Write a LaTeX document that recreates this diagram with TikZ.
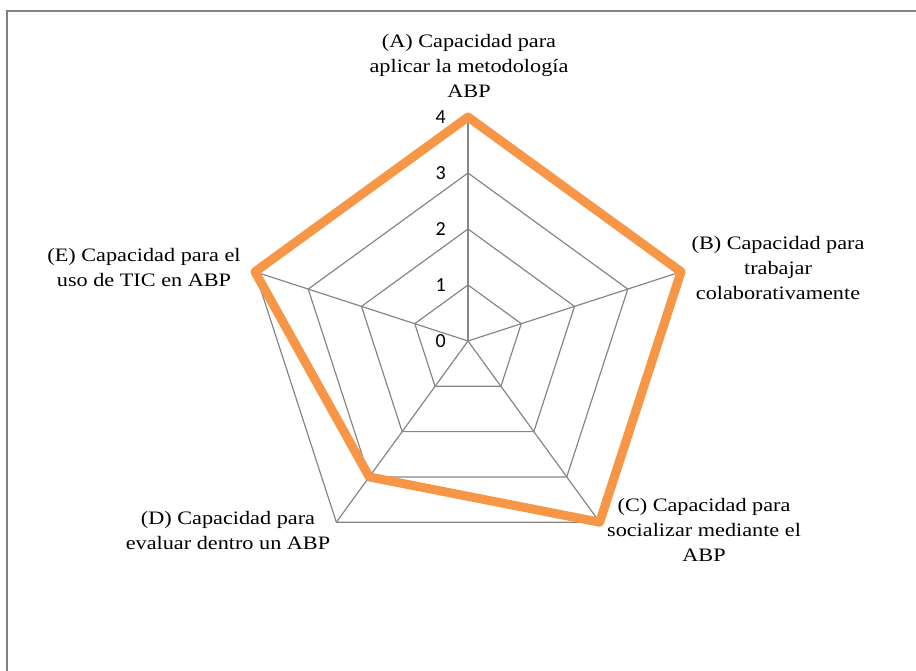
\documentclass[tikz,border=0pt]{standalone}
\usepackage{fontspec}
\setmainfont[FakeStretch=1.17]{Liberation Serif}
\newfontfamily\ticksfont{Carlito}
\definecolor{serie}{RGB}{247,150,70}
\definecolor{rejilla}{RGB}{134,134,134}
\begin{document}
\begin{tikzpicture}[x=1pt,y=1pt]
 \useasboundingbox (0,0) rectangle (916,-671);
 \draw[line width=1.5pt,color=gray] (7,-671) -- (7,-11) -- (916,-11);
 \tikzset{rot/.style={align=center,font=\fontsize{19}{25}\selectfont}}
 \begin{scope}[shift={(468,-341)}]
  \coordinate (O) at (0,0);
  \foreach \r in {1,...,4}
     \draw[color=rejilla,line width=1.2pt,line join=round] (90:56*\r) -- (18:56*\r) -- (-54:56*\r) -- (-126:56*\r) -- (162:56*\r) -- cycle;
  \foreach \a in {90,18,-54,-126,162}
     \draw[color=rejilla,line width=1.2pt] (O) -- (\a:224);
  \foreach \r in {0,...,4}
     \node[left,font=\ticksfont\fontsize{20}{20}\selectfont,inner sep=0pt] at (-22,56*\r) {\r};
  \draw[color=serie,line width=9pt,line join=round] (90:224) -- (18:224) -- (-54:224) -- (-126:168) -- (162:224) -- cycle;
 \end{scope}
 \node[rot] (A) at (469,-66) {(A) Capacidad para\\aplicar la metodología\\ABP};
 \node[rot] (B) at (778,-268) {(B) Capacidad para\\trabajar\\colaborativamente};
 \node[rot] (C) at (704,-530) {(C) Capacidad para\\socializar mediante el\\ABP};
 \node[rot] (D) at (228,-530) {(D) Capacidad para\\evaluar dentro un ABP};
 \node[rot] (E) at (144,-268) {(E) Capacidad para el\\uso de TIC en ABP};
\end{tikzpicture}
\end{document}
